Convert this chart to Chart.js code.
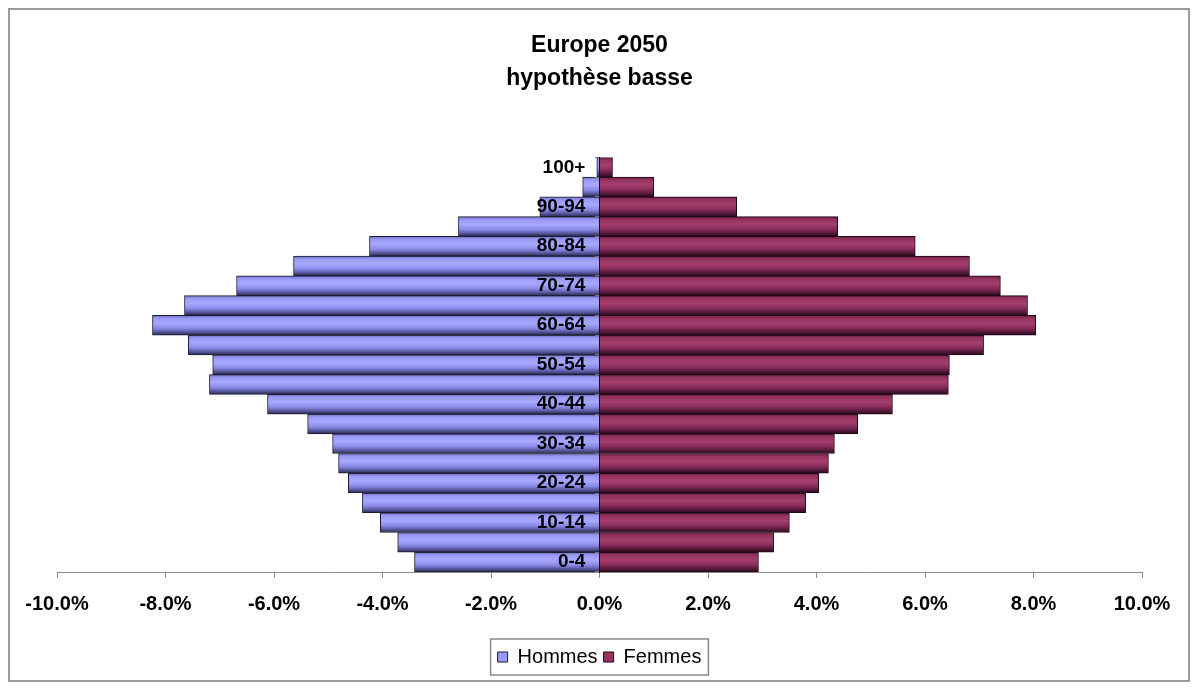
<!DOCTYPE html>
<html lang="fr">
<head>
    <meta charset="UTF-8">
    <title>Europe 2050 - hypothèse basse</title>
    <script src="https://cdn.jsdelivr.net/npm/chart.js"></script>
    <style>
        body {
            margin: 0;
            background: #fff;
        }
        #frame {
            position: absolute;
            left: 8px;
            top: 8px;
            width: 1182px;
            height: 674px;
            box-sizing: border-box;
            border: 2px solid #9a9a9a;
            background: #fff;
        }
        #frame canvas {
            position: absolute;
            left: 0;
            top: 0;
        }
    </style>
</head>
<body>
    <div id="frame"><canvas id="pyramid" width="1178" height="670"></canvas></div>

<script>
// age groups, bottom to top
const ageGroups = ['0-4', '5-9', '10-14', '15-19', '20-24', '25-29', '30-34', '35-39', '40-44',
    '45-49', '50-54', '55-59', '60-64', '65-69', '70-74', '75-79', '80-84', '85-89',
    '90-94', '95-99', '100+'];

// share of total population in %, men plotted on the negative side
const hommes = [-3.41, -3.72, -4.04, -4.37, -4.63, -4.81, -4.92, -5.38, -6.12, -7.19,
    -7.13, -7.58, -8.24, -7.65, -6.69, -5.64, -4.24, -2.60, -1.10, -0.31, -0.05];
const femmes = [2.93, 3.21, 3.50, 3.80, 4.04, 4.22, 4.33, 4.76, 5.40, 6.43,
    6.45, 7.08, 8.04, 7.89, 7.39, 6.82, 5.82, 4.39, 2.53, 1.00, 0.24];

const xTicks = [-10, -8, -6, -4, -2, 0, 2, 4, 6, 8, 10];
const flatColors = ['#9999ff', '#993366'];

Chart.defaults.font.family = '"Liberation Sans", Arial, sans-serif';
Chart.defaults.color = '#000';

// cylinder-like shading, built from the bar position on the y scale
function shaded(flat, stops) {
    return function (ctx) {
        if (ctx.type !== 'data') return flat;
        const ys = ctx.chart.scales.y;
        if (!ys) return flat;
        const c = ys.getPixelForValue(ctx.dataIndex);
        const half = Math.abs(ys.getPixelForValue(1) - ys.getPixelForValue(0)) / 2;
        if (!isFinite(c) || !half) return flat;
        const g = ctx.chart.ctx.createLinearGradient(0, c - half, 0, c + half);
        stops.forEach(s => g.addColorStop(s[0], s[1]));
        return g;
    };
}

const blueStops = [[0, '#6e6ec4'], [0.15, '#9a9af4'], [0.4, '#a8a8ff'], [0.65, '#8b8be8'], [0.85, '#55559a'], [1, '#2a2a50']];
const wineStops = [[0, '#6a1e46'], [0.15, '#94335f'], [0.4, '#a43f6e'], [0.65, '#872b59'], [0.85, '#521838'], [1, '#2a0a1c']];

// gray frame around the legend items
const legendFrame = {
    id: 'legendFrame',
    afterDraw(chart) {
        const boxes = chart.legend && chart.legend.legendHitBoxes;
        if (!boxes || !boxes.length) return;
        const left = Math.min(...boxes.map(b => b.left));
        const right = Math.max(...boxes.map(b => b.left + b.width));
        const top = Math.min(...boxes.map(b => b.top));
        const bottom = Math.max(...boxes.map(b => b.top + b.height));
        const ctx = chart.ctx;
        ctx.save();
        ctx.strokeStyle = '#8a8a8a';
        ctx.lineWidth = 1.5;
        ctx.strokeRect(left - 7, top - 8, right - left + 14, bottom - top + 16);
        ctx.restore();
    }
};

const ageLabel = (v, i) => (i % 2 === 0 ? ageGroups[i] : '');

new Chart(document.getElementById('pyramid'), {
    type: 'bar',
    data: {
        labels: ageGroups,
        datasets: [{
            label: 'Hommes',
            data: hommes,
            backgroundColor: shaded(flatColors[0], blueStops),
            borderColor: '#1c1c30',
            borderWidth: 1,
            barPercentage: 1,
            categoryPercentage: 1
        }, {
            label: 'Femmes',
            data: femmes,
            backgroundColor: shaded(flatColors[1], wineStops),
            borderColor: '#1e0814',
            borderWidth: 1,
            barPercentage: 1,
            categoryPercentage: 1
        }]
    },
    plugins: [legendFrame],
    options: {
        indexAxis: 'y',
        responsive: false,
        animation: false,
        events: [],
        layout: {
            padding: { left: 47, right: 46, top: 0, bottom: 3 }
        },
        scales: {
            x: {
                type: 'linear',
                stacked: true,
                min: -10,
                max: 10,
                afterBuildTicks: scale => { scale.ticks = xTicks.map(v => ({ value: v })); },
                afterFit: scale => { scale.height += 11; },
                grid: { drawOnChartArea: false, tickLength: 6, color: '#8a8a8a' },
                border: { color: '#8a8a8a', width: 1 },
                ticks: {
                    padding: 14,
                    font: { size: 20, weight: 'bold' },
                    callback: v => v.toFixed(1) + '%'
                }
            },
            // category axis sitting on the zero line: axis line + tick marks
            y: {
                type: 'category',
                stacked: true,
                reverse: true,
                position: { x: 0 },
                grid: { drawOnChartArea: false, tickLength: 4, color: '#777', offset: true, z: 1 },
                border: { color: '#111', width: 1, z: 1 },
                ticks: { display: false, autoSkip: false }
            },
            // age labels, a little left of the zero line, drawn over the bars
            yLabels: {
                type: 'category',
                axis: 'y',
                reverse: true,
                offset: true,
                position: { x: -0.26 },
                grid: { display: false },
                border: { display: false },
                ticks: {
                    autoSkip: false,
                    z: 2,
                    font: { size: 19, weight: 'bold' },
                    callback: ageLabel
                }
            }
        },
        plugins: {
            title: {
                display: true,
                text: ['Europe 2050', 'hypothèse basse'],
                color: '#000',
                font: { size: 23, weight: 'bold', lineHeight: 1.4 },
                padding: { top: 20, bottom: 63 }
            },
            legend: {
                position: 'bottom',
                labels: {
                    boxWidth: 10,
                    boxHeight: 10,
                    padding: 6,
                    color: '#000',
                    font: { size: 20 },
                    generateLabels: chart => Chart.defaults.plugins.legend.labels.generateLabels(chart)
                        .map((item, i) => Object.assign(item, { fillStyle: flatColors[i] }))
                }
            },
            tooltip: { enabled: false }
        }
    }
});
</script>
</body>
</html>
